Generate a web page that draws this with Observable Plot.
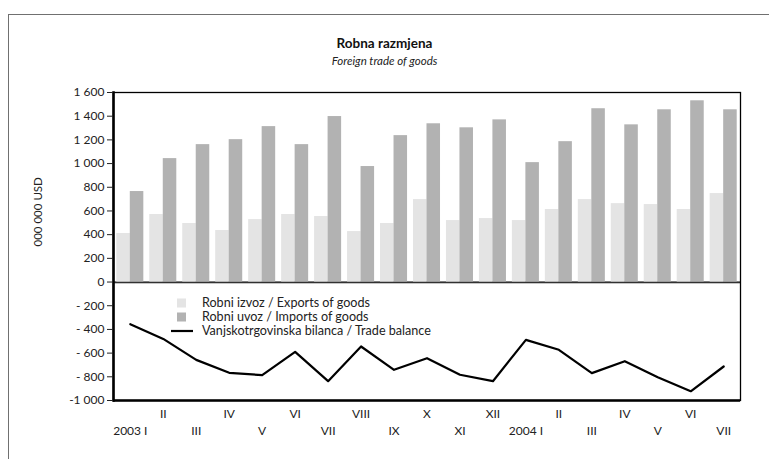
<!DOCTYPE html>
<html>
<head>
<meta charset="utf-8">
<script src="https://cdn.jsdelivr.net/npm/d3@7"></script>
<script src="https://cdn.jsdelivr.net/npm/@observablehq/plot@0.6"></script>
<style>
  html, body { margin: 0; padding: 0; background: #fff; }
  #wrap { position: relative; width: 769px; height: 459px; overflow: hidden; font-family: Lato, "Open Sans", sans-serif; }
  #frame { position: absolute; left: 8px; top: 14px; width: 800px; height: 500px; border-left: 1.5px solid #707070; border-top: 1.5px solid #707070; }
  #title { position: absolute; left: 0; width: 769px; top: 35px; text-align: center; font-weight: bold; font-size: 13.5px; color: #111; }
  #subtitle { position: absolute; left: 0; width: 769px; top: 54px; text-align: center; font-style: italic; font-size: 11.5px; color: #222; }
  #chart { position: absolute; left: 0; top: 0; }
</style>
</head>
<body>
<div id="wrap">
  <div id="frame"></div>
  <div id="title">Robna razmjena</div>
  <div id="subtitle">Foreign trade of goods</div>
  <div id="chart"></div>
</div>
<script>
// Periods (unique keys) and their axis labels
const periods = ["2003-01","2003-02","2003-03","2003-04","2003-05","2003-06","2003-07","2003-08","2003-09","2003-10","2003-11","2003-12",
                 "2004-01","2004-02","2004-03","2004-04","2004-05","2004-06","2004-07"];
const xLabels = ["2003 I","II","III","IV","V","VI","VII","VIII","IX","X","XI","XII",
                 "2004 I","II","III","IV","V","VI","VII"];
// Values, 000 000 USD
const exportsGoods = [410, 570, 494, 435, 527, 570, 553, 426, 494, 696, 519, 536, 519, 612, 696, 662, 654, 612, 747];
const importsGoods = [764, 1042, 1160, 1202, 1312, 1160, 1397, 975, 1236, 1336, 1302, 1369, 1008, 1185, 1463, 1327, 1454, 1530, 1454];
const tradeBalance = [-356, -480, -657, -766, -786, -589, -837, -544, -741, -643, -783, -837, -488, -572, -769, -668, -803, -922, -713];
// Y ticks
const yTicks = [-1000, -800, -600, -400, -200, 0, 200, 400, 600, 800, 1000, 1200, 1400, 1600];
const yTickLabels = ["-1 000", "- 800", "- 600", "- 400", "- 200", "0", "200", "400", "600", "800", "1 000", "1 200", "1 400", "1 600"];
const legendLabels = ["Robni izvoz / Exports of goods", "Robni uvoz / Imports of goods", "Vanjskotrgovinska bilanca / Trade balance"];
const colors = {exports: "#e4e4e4", imports: "#b2b2b2", balance: "#000"};

const data = periods.map((p, i) => ({period: p, exports: exportsGoods[i], imports: importsGoods[i], balance: tradeBalance[i]}));
const xFmt = d => xLabels[periods.indexOf(d)];
const yFmt = d => yTickLabels[yTicks.indexOf(d)];

const svg = Plot.plot({
  width: 769,
  height: 459,
  marginLeft: 113,
  marginRight: 29,
  marginTop: 92,
  marginBottom: 59,
  style: {fontFamily: "Lato, 'Open Sans', sans-serif", fontSize: "12px", color: "#222", background: "transparent"},
  x: {type: "band", domain: periods, paddingInner: 0.18, paddingOuter: 0.1, round: false},
  y: {domain: [-1000, 1600]},
  marks: [
    Plot.ruleY([0], {stroke: "#c4c4c4", strokeWidth: 2, dy: 1}),
    Plot.ruleY([0], {stroke: "#000", strokeWidth: 1.2}),
    Plot.barY(data, {x: "period", y: "exports", fill: colors.exports, insetRight: 13.5}),
    Plot.barY(data, {x: "period", y: "imports", fill: colors.imports, insetLeft: 13.5}),
    Plot.lineY(data, {x: "period", y: "balance", stroke: colors.balance, strokeWidth: 2.2}),
    Plot.frame({stroke: "#000", strokeWidth: 1.3}),
    Plot.frame({anchor: "left", stroke: "#000", strokeWidth: 2.6}),
    Plot.ruleY([-1000], {stroke: "#000", strokeWidth: 2.6}),
    Plot.axisY(yTicks, {tickFormat: yFmt, tickSize: 6, tickPadding: 3, label: null, fontSize: 12}),
    Plot.axisX(periods.filter((d, i) => i % 2 === 1), {tickSize: 0, tickPadding: 9, tickFormat: xFmt, label: null, fontSize: 12}),
    Plot.axisX(periods.filter((d, i) => i % 2 === 0), {tickSize: 0, tickPadding: 26, tickFormat: xFmt, label: null, fontSize: 12}),
    Plot.text(["000 000 USD"], {text: d => d, frameAnchor: "left", rotate: -90, dx: -75, fontSize: 11.5})
  ]
});

// Legend inside the plot area
const g = d3.select(svg).append("g").attr("font-size", 12.6).attr("fill", "#222").attr("text-anchor", "start");
const rowsY = [303, 317, 331];
g.append("rect").attr("x", 177).attr("y", rowsY[0] - 4.5).attr("width", 9).attr("height", 9).attr("fill", colors.exports);
g.append("rect").attr("x", 177).attr("y", rowsY[1] - 4.5).attr("width", 9).attr("height", 9).attr("fill", colors.imports);
g.append("line").attr("x1", 171).attr("x2", 193).attr("y1", rowsY[2]).attr("y2", rowsY[2]).attr("stroke", "#000").attr("stroke-width", 2.2);
legendLabels.forEach((t, i) => {
  g.append("text").attr("x", 202).attr("y", rowsY[i]).attr("dy", "0.35em").attr("text-anchor", "start").text(t);
});

document.getElementById("chart").appendChild(svg);
</script>
</body>
</html>
